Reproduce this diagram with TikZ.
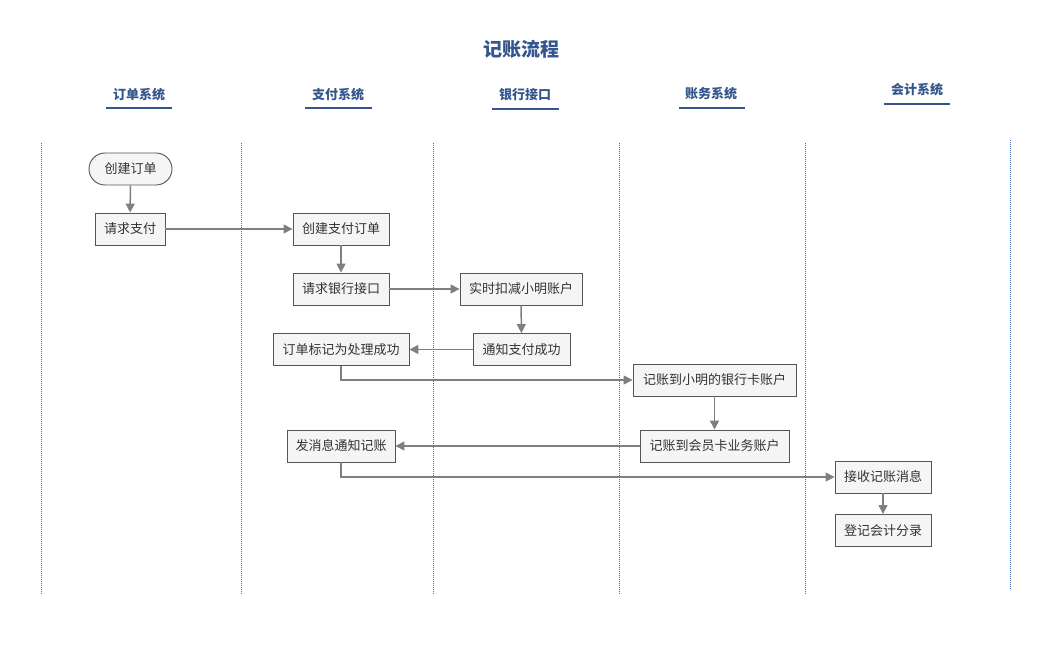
\documentclass[tikz,border=0pt]{standalone}
\usepackage{fontspec}
\setmainfont{Noto Sans CJK SC}
\usetikzlibrary{arrows.meta,positioning}
\definecolor{hdr}{HTML}{34568C}
\definecolor{lane}{HTML}{4469A6}
\definecolor{boxfill}{HTML}{F5F5F5}
\definecolor{boxline}{HTML}{555555}
\definecolor{arr}{HTML}{7F7F7F}
\definecolor{txt}{HTML}{333333}
\tikzset{
  box/.style={draw=boxline, fill=boxfill, line width=0.9pt, minimum height=32pt, inner sep=0pt, text=txt, font=\fontsize{13}{15}\selectfont},
  term/.style={box, rounded corners=16pt},
  flow/.style={draw=arr, line width=1.5pt, -{Triangle[length=9pt,width=9pt]}},
  lanesep/.style={draw=lane, line width=0.9pt, dash pattern=on 1pt off 1pt},
  header/.style={text=hdr, font=\fontsize{13}{15}\selectfont\bfseries},
  hline/.style={draw=hdr, line width=1.3pt},
}
\begin{document}
\begin{tikzpicture}[x=1pt,y=-1pt]
\path[use as bounding box] (0,0) rectangle (1051,660);
% title
\node[text=hdr, font=\fontsize{19}{22}\selectfont\bfseries] (title) at (521,49) {记账流程};
% headers
\node[header] (h1) at (139,95) {订单系统};
\node[header] (h2) at (338,95) {支付系统};
\node[header] (h3) at (525,95) {银行接口};
\node[header] (h4) at (711,94) {账务系统};
\node[header] (h5) at (917,90) {会计系统};
\draw[hline] (106,108) -- (172,108);
\draw[hline] (305,108) -- (372,108);
\draw[hline] (492,109) -- (559,109);
\draw[hline] (679,108) -- (745,108);
\draw[hline] (884,104) -- (950,104);
% lane separators
\draw[lanesep] (41,143) -- (41,595);
\draw[lanesep] (241,143) -- (241,595);
\draw[lanesep] (433,143) -- (433,595);
\draw[lanesep] (619,143) -- (619,595);
\draw[lanesep] (805,143) -- (805,595);
\draw[lanesep] (1010,140) -- (1010,590);
% nodes
\node[term, minimum width=83pt] (n1) at (130.5,169) {创建订单};
\node[box, minimum width=70pt] (n2) at (130,229) {请求支付};
\node[box, minimum width=96pt] (n3) at (341,229) {创建支付订单};
\node[box, minimum width=96pt] (n4) at (341,289) {请求银行接口};
\node[box, minimum width=122pt] (n5) at (521,289) {实时扣减小明账户};
\node[box, minimum width=97pt] (n6) at (521.5,349.5) {通知支付成功};
\node[box, minimum width=136pt] (n7) at (341,349.5) {订单标记为处理成功};
\node[box, minimum width=163pt] (n8) at (714.5,380) {记账到小明的银行卡账户};
\node[box, minimum width=149pt] (n9) at (714.5,446) {记账到会员卡业务账户};
\node[box, minimum width=108pt] (n10) at (341,446) {发消息通知记账};
\node[box, minimum width=96pt] (n11) at (883,477) {接收记账消息};
\node[box, minimum width=96pt] (n12) at (883,530.5) {登记会计分录};
% connectors
\draw[flow] (n1) -- (n2);
\draw[flow] (n2) -- (n3);
\draw[flow] (n3) -- (n4);
\draw[flow] (n4) -- (n5);
\draw[flow] (n5) -- (n6);
\draw[flow] (n6) -- (n7);
\draw[flow] (n7.south) |- (n8.west);
\draw[flow] (n8) -- (n9);
\draw[flow] (n9) -- (n10);
\draw[flow] (n10.south) |- (n11.west);
\draw[flow] (n11) -- (n12);
\end{tikzpicture}
\end{document}
